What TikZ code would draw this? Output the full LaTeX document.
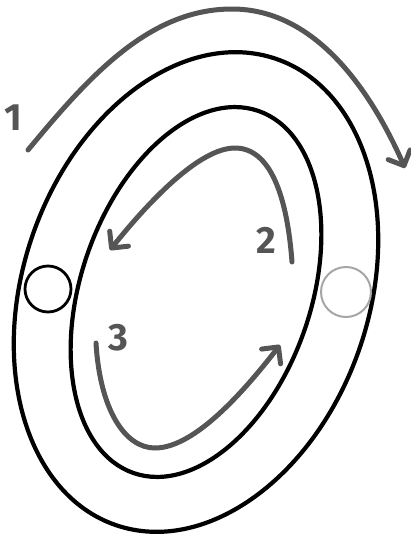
\documentclass[tikz,border=0pt]{standalone}
\usepackage{fontspec}
\setsansfont{Fira Sans}
\usetikzlibrary{arrows.meta}
\definecolor{cyInk}{HTML}{000000}
\definecolor{cyFlow}{HTML}{555555}
\definecolor{cyPale}{HTML}{A6A6A6}
\tikzset{
  cy diagram/.style={x=1pt, y=-1pt, line cap=round, line join=round},
  cy ring/.style={draw=cyInk, line width=4.2pt},
  cy flow/.style={draw=cyFlow, line width=5pt,
    -{Straight Barb[round, length=12pt, width=24pt]}},
  cy port/.style={circle, draw=cyInk, fill=white, line width=2.8pt,
    minimum size=46pt, inner sep=0pt},
  cy port off/.style={cy port, draw=cyPale, line width=2pt, minimum size=50pt},
  cy label/.style={font=\sffamily\bfseries\fontsize{38}{38}\selectfont, text=cyFlow}
}
\begin{document}
\begin{tikzpicture}[cy diagram]
\useasboundingbox (0,0) rectangle (411,538);
\begin{scope}[rotate around={-19:(196,292)}]
  \draw[cy ring] (196,292) ellipse [x radius=173, y radius=246.5];
  \draw[cy ring] (196,292) ellipse [x radius=115, y radius=191.5];
\end{scope}
\node[cy port] (portL) at (48,289) {};
\node[cy port off] (portR) at (346,292) {};
\draw[cy flow] (28,150) .. controls (90,75) and (150,9) .. (232,9)
  .. controls (320,9) and (375,100) .. (405,168);
\draw[cy flow] (292,262) .. controls (287,195) and (270,148) .. (235,148)
  .. controls (200,148) and (150,200) .. (110,250);
\draw[cy flow] (96,343) .. controls (100,410) and (125,448) .. (155,448)
  .. controls (195,448) and (245,390) .. (280,345);
\node[cy label] (one) at (13,118) {1};
\node[cy label] (two) at (266,240) {2};
\node[cy label] (three) at (118,338) {3};
\end{tikzpicture}
\end{document}
